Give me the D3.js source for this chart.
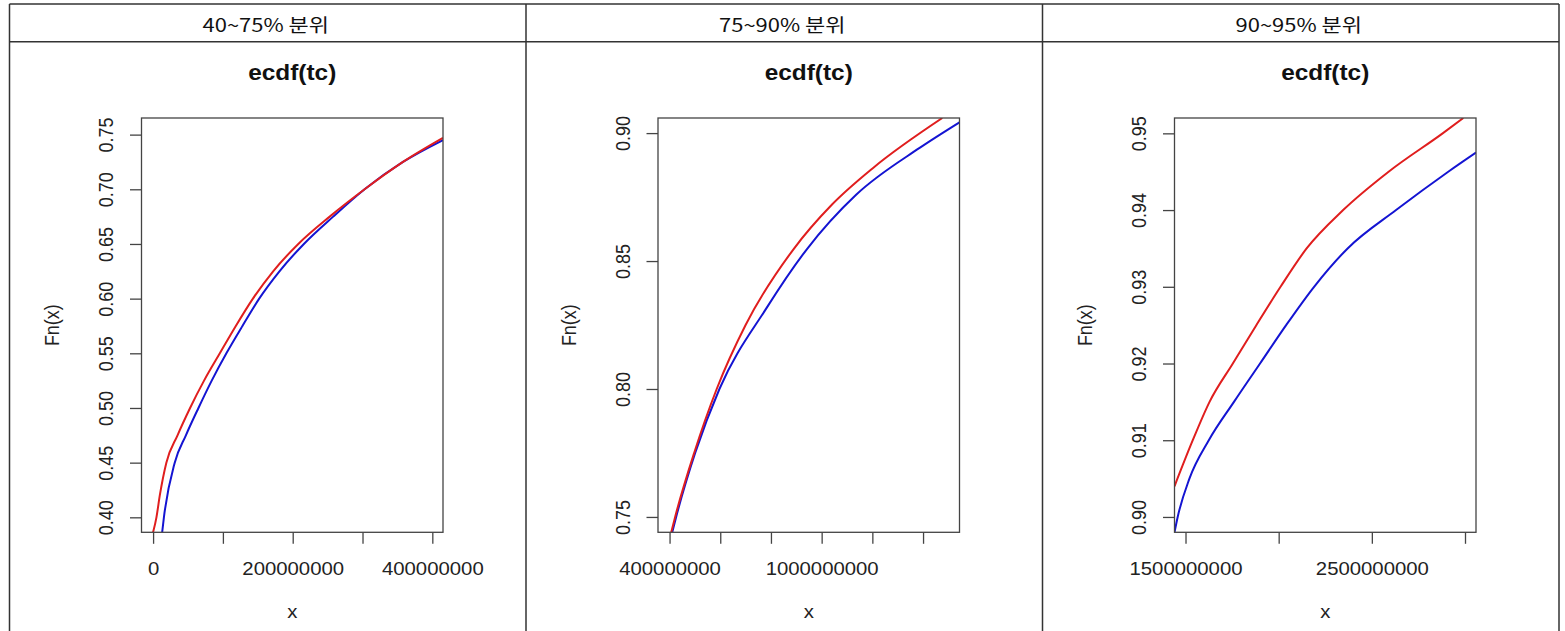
<!DOCTYPE html>
<html>
<head>
<meta charset="utf-8">
<script src="https://cdn.jsdelivr.net/npm/d3@7"></script>
<style>
  body { margin: 0; background: #fff; }
  svg { display: block; }
</style>
</head>
<body>
<svg id="chart" width="1565" height="631"></svg>
<script>
// column headers
const headers = ['40~75% 분위', '75~90% 분위', '90~95% 분위'];
const plotTitle = 'ecdf(tc)';

// panel 1 : 40~75%
const p1XDomain = [-16.6e6, 415.3e6];
const p1YDomain = [0.3863, 0.7652];
const p1XTicks = [0, 100e6, 200e6, 300e6, 400e6];
const p1XLabels = ['0', '', '200000000', '', '400000000'];
const p1YTicks = [0.40, 0.45, 0.50, 0.55, 0.60, 0.65, 0.70, 0.75];
const p1YLabels = ['0.40', '0.45', '0.50', '0.55', '0.60', '0.65', '0.70', '0.75'];
const p1RedX = [0, 4.8e6, 9.6e6, 19e6, 35e6, 53e6, 73e6, 95.6e6, 118.5e6, 143e6, 172e6, 208e6, 253e6, 303e6, 358e6, 415.3e6];
const p1RedY = [0.3863, 0.40, 0.42, 0.45, 0.475, 0.50, 0.525, 0.55, 0.575, 0.60, 0.625, 0.65, 0.675, 0.70, 0.725, 0.747];
const p1BlueX = [13e6, 15.5e6, 31e6, 47e6, 65e6, 84e6, 105e6, 128e6, 152e6, 181e6, 216e6, 258e6, 303e6, 358e6, 415.3e6];
const p1BlueY = [0.3863, 0.40, 0.45, 0.475, 0.50, 0.525, 0.55, 0.575, 0.60, 0.625, 0.65, 0.675, 0.70, 0.725, 0.745];

// panel 2 : 75~90%
const p2XDomain = [354.4e6, 1543.8e6];
const p2YDomain = [0.744, 0.9059];
const p2XTicks = [400e6, 600e6, 800e6, 1000e6, 1200e6, 1400e6];
const p2XLabels = ['400000000', '', '', '1000000000', '', ''];
const p2YTicks = [0.75, 0.80, 0.85, 0.90];
const p2YLabels = ['0.75', '0.80', '0.85', '0.90'];
const p2RedX = [406.7e6, 422e6, 497e6, 586e6, 700e6, 888e6, 1040e6, 1203e6, 1476e6];
const p2RedY = [0.744, 0.75, 0.775, 0.80, 0.825, 0.8545, 0.872, 0.8864, 0.9059];
const p2BlueX = [410.6e6, 426e6, 501e6, 596.7e6, 783e6, 940.6e6, 1137e6, 1386.5e6, 1543.8e6];
const p2BlueY = [0.744, 0.75, 0.775, 0.80, 0.8317, 0.8545, 0.876, 0.8942, 0.9042];

// panel 3 : 90~95%
const p3XDomain = [1440.9e6, 3059e6];
const p3YDomain = [0.898, 0.952];
const p3XTicks = [1500e6, 2000e6, 2500e6, 3000e6];
const p3XLabels = ['1500000000', '', '2500000000', ''];
const p3YTicks = [0.90, 0.91, 0.92, 0.93, 0.94, 0.95];
const p3YLabels = ['0.90', '0.91', '0.92', '0.93', '0.94', '0.95'];
const p3RedX = [1440.9e6, 1539e6, 1629e6, 1754e6, 1880e6, 2010e6, 2150e6, 2346e6, 2590e6, 2880e6, 2991e6];
const p3RedY = [0.904, 0.91, 0.915, 0.92, 0.925, 0.93, 0.935, 0.94, 0.945, 0.95, 0.952];
const p3BlueX = [1440.9e6, 1458e6, 1521e6, 1625e6, 1760e6, 1900e6, 2040e6, 2190e6, 2370e6, 2630e6, 2910e6, 3059e6];
const p3BlueY = [0.898, 0.90, 0.905, 0.91, 0.915, 0.92, 0.925, 0.93, 0.935, 0.94, 0.945, 0.9475];

const panels = [
  { xd: p1XDomain, yd: p1YDomain, xt: p1XTicks, xl: p1XLabels, yt: p1YTicks, yl: p1YLabels, red: [p1RedX, p1RedY], blue: [p1BlueX, p1BlueY] },
  { xd: p2XDomain, yd: p2YDomain, xt: p2XTicks, xl: p2XLabels, yt: p2YTicks, yl: p2YLabels, red: [p2RedX, p2RedY], blue: [p2BlueX, p2BlueY] },
  { xd: p3XDomain, yd: p3YDomain, xt: p3XTicks, xl: p3XLabels, yt: p3YTicks, yl: p3YLabels, red: [p3RedX, p3RedY], blue: [p3BlueX, p3BlueY] }
];

const svg = d3.select('#chart');
const font = '"Liberation Sans", Arial, Helvetica, sans-serif';
const sx = 1.13;   // the picture is a bit wider than tall
const tableLeft = 9.5, colW = 516.5, headTop = 4, headBottom = 41.7;
const plotTop = 118, plotBottom = 532.3, plotOffset = 132, plotW = 301.5;

// table grid
const grid = svg.append('g').attr('stroke', '#333').attr('stroke-width', 1.5);
grid.append('line').attr('x1', tableLeft).attr('x2', tableLeft + 3 * colW).attr('y1', headTop).attr('y2', headTop);
grid.append('line').attr('x1', tableLeft).attr('x2', tableLeft + 3 * colW).attr('y1', headBottom).attr('y2', headBottom);
d3.range(4).forEach(i => {
  grid.append('line').attr('x1', tableLeft + i * colW).attr('x2', tableLeft + i * colW)
    .attr('y1', headTop).attr('y2', 631);
});

panels.forEach((p, i) => {
  const colX = tableLeft + i * colW;
  const left = colX + plotOffset, right = left + plotW;
  const midX = (left + right) / 2, midY = (plotTop + plotBottom) / 2;

  svg.append('text')
    .attr('transform', `translate(${colX + colW / 2 - 2},31.5) scale(1.22,1)`)
    .attr('text-anchor', 'middle')
    .attr('font-family', '"Noto Sans CJK KR", "Noto Sans", sans-serif')
    .attr('font-size', 18)
    .attr('fill', '#111')
    .text(headers[i]);

  const x = d3.scaleLinear().domain(p.xd).range([left, right]);
  const y = d3.scaleLinear().domain(p.yd).range([plotBottom, plotTop]);

  const clipId = 'clip' + i;
  svg.append('clipPath').attr('id', clipId)
    .append('rect').attr('x', left).attr('y', plotTop).attr('width', plotW).attr('height', plotBottom - plotTop);

  const line = d3.line()
    .x(d => x(d[0]))
    .y(d => y(d[1]))
    .curve(d3.curveMonotoneX);

  [['blue', '#1414d2'], ['red', '#e01e1e']].forEach(([key, col]) => {
    const pts = p[key][0].map((v, k) => [v, p[key][1][k]]);
    svg.append('path')
      .datum(pts)
      .attr('clip-path', `url(#${clipId})`)
      .attr('d', line)
      .attr('fill', 'none')
      .attr('stroke', col)
      .attr('stroke-width', 2);
  });

  // x axis
  const xAxis = d3.axisBottom(x)
    .tickValues(p.xt)
    .tickFormat((d, k) => p.xl[k])
    .tickSize(11.5)
    .tickSizeOuter(0)
    .tickPadding(18.4);
  const gx = svg.append('g').attr('transform', `translate(0,${plotBottom})`).call(xAxis);
  gx.select('.domain').remove();
  gx.selectAll('line').attr('stroke', '#444').attr('stroke-width', 1.3);
  gx.selectAll('text')
    .attr('font-family', font).attr('font-size', 18).attr('fill', '#222')
    .attr('transform', `scale(${sx},1)`);

  // y axis
  const yAxis = d3.axisLeft(y)
    .tickValues(p.yt)
    .tickFormat((d, k) => p.yl[k])
    .tickSize(11.5)
    .tickSizeOuter(0);
  const gy = svg.append('g').attr('transform', `translate(${left},0)`).call(yAxis);
  gy.select('.domain').remove();
  gy.selectAll('line').attr('stroke', '#444').attr('stroke-width', 1.3);
  gy.selectAll('text')
    .attr('x', 0).attr('y', 0).attr('dy', 0)
    .attr('text-anchor', 'middle')
    .attr('font-family', font).attr('font-size', 18).attr('fill', '#222')
    .attr('transform', `translate(-28.4,0) scale(${sx},1) rotate(-90)`);

  // plot box
  svg.append('rect')
    .attr('x', left).attr('y', plotTop)
    .attr('width', plotW).attr('height', plotBottom - plotTop)
    .attr('fill', 'none').attr('stroke', '#444').attr('stroke-width', 1.3);

  svg.append('text')
    .attr('transform', `translate(${midX},80) scale(${sx},1)`)
    .attr('text-anchor', 'middle')
    .attr('font-family', font).attr('font-size', 21.6).attr('font-weight', 'bold').attr('fill', '#111')
    .text(plotTitle);

  svg.append('text')
    .attr('transform', `translate(${midX},618.3) scale(${sx},1)`)
    .attr('text-anchor', 'middle')
    .attr('font-family', font).attr('font-size', 18).attr('fill', '#222')
    .text('x');

  svg.append('text')
    .attr('transform', `translate(${left - 82.5},${midY}) scale(${sx},1) rotate(-90)`)
    .attr('text-anchor', 'middle')
    .attr('font-family', font).attr('font-size', 18).attr('fill', '#222')
    .text('Fn(x)');
});
</script>
</body>
</html>
